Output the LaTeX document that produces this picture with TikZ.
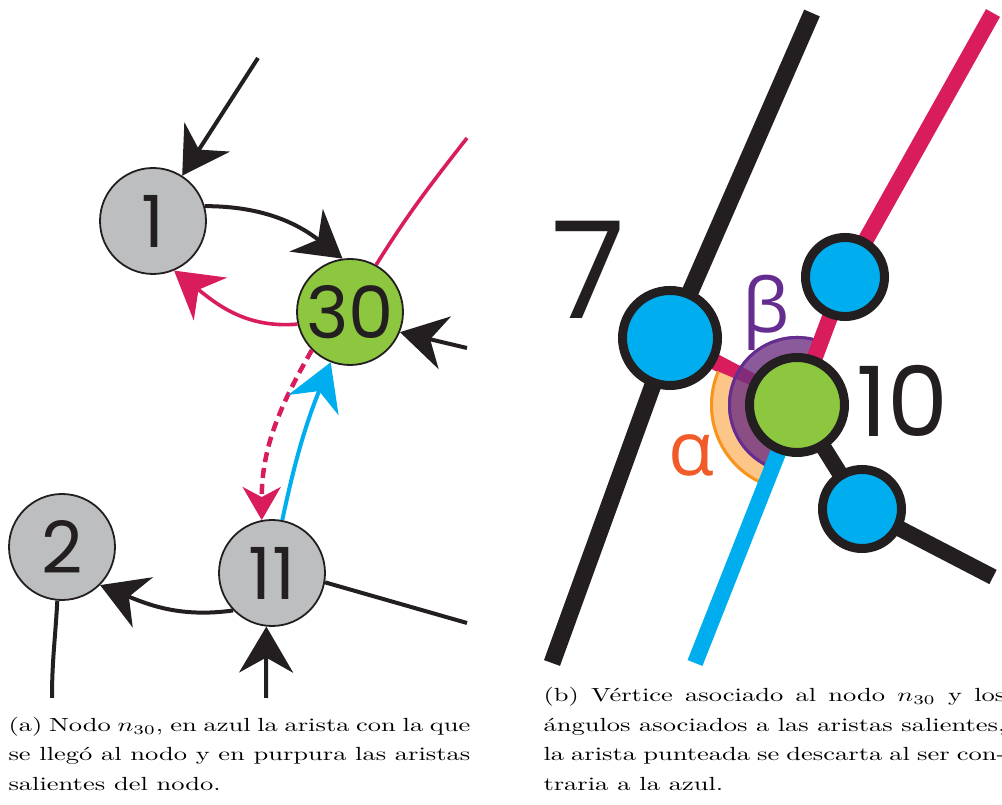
\documentclass[tikz,border=0pt]{standalone}
\usepackage{fontspec}
\usepackage{amsmath}
\usetikzlibrary{arrows.meta,backgrounds}

\newfontfamily\numfont{Poppins}
\newfontfamily\greekfont{Open Sans}

\definecolor{ink}{HTML}{231F20}
\definecolor{ngray}{HTML}{BCBEC0}
\definecolor{ngreen}{HTML}{8DC63F}
\definecolor{nmagenta}{HTML}{D91C5C}
\definecolor{nblue}{HTML}{00AEEF}
\definecolor{aorange}{HTML}{F7941D}
\definecolor{aorangefill}{HTML}{FDC689}
\definecolor{alabel}{HTML}{F15A29}
\definecolor{bpurple}{HTML}{662D91}
\definecolor{bpurplefill}{RGB}{110,49,130}

\begin{document}
\begin{tikzpicture}[x=1pt, y=1pt,
    arr/.style={-{Stealth[length=46pt,width=54pt,inset=15pt]}},
    gnode/.style={circle, draw=ink, line width=1.8pt, fill=ngray, minimum size=106pt, inner sep=0pt,
        font=\numfont\fontsize{72}{72}\selectfont, text=ink},
    edge/.style={draw=ink, line width=4pt},
    medge/.style={draw=nmagenta, line width=3.6pt},
    bedge/.style={draw=nblue, line width=4pt},
    vert/.style={circle, draw=ink, line width=9pt, fill=nblue, minimum size=79pt, inner sep=0pt},
    bigvert/.style={vert, minimum size=95pt},
    thick edge/.style={line width=16pt},
    biglabel/.style={font=\numfont\fontsize{#1}{#1}\selectfont, text=ink, inner sep=0pt},
    caption/.style={text width=174.3pt, align=justify, inner sep=0pt, anchor=north west,
        xscale=2.65, yscale=1.9, transform shape, font=\fontsize{10}{15.5}\selectfont}]
    \useasboundingbox (0,0) rectangle (1002,805);

    % Nodes (a)
    \node[gnode] (n1) at (153,584) {1};
    \node[gnode, fill=ngreen] (n30) at (350,493) {30};
    \node[gnode] (n2) at (62,258) {2};
    \node[gnode] (n11) at (272,232) {11};
    \coordinate (in1) at (258,747);
    \coordinate (out30) at (467,667);
    \coordinate (in30) at (467,457);
    \coordinate (out11) at (467,182);
    \coordinate (in11) at (266,107);
    \coordinate (out2) at (52,107);

    % Edges (a)
    \draw[edge, arr] (in1) -- (n1);
    \draw[edge, arr] (n1.16) to[out=0, in=142] (n30.98);
    \draw[medge, arr] (n30.193) to[out=185, in=-38] (n1.293);
    \draw[medge] (n30.61) to[out=58, in=232] (out30);
    \draw[edge, arr] (in30) -- (n30.-22);
    \draw[medge, line width=4.5pt, dash pattern=on 10pt off 6pt,
        -{Stealth[length=33pt,width=38pt,inset=10pt]}] (n30.225) to[out=240, in=90] (n11.101);
    \draw[bedge, arr] (n11.79) to[out=78, in=248] (n30.249);
    \draw[edge, arr] (n11.224) to[out=188, in=-22] (n2.-45);
    \draw[edge] (n11.-10) -- (out11);
    \draw[edge, arr] (in11) -- (n11.264);
    \draw[edge] (n2.265) to[out=267, in=90] (out2);

    % Nodes (b)
    \node[bigvert] (v7) at (670,467) {};
    \node[bigvert, fill=ngreen] (v10) at (797,400) {};
    \node[vert] (vt) at (845,528) {};
    \node[vert] (vb) at (862,296) {};
    \coordinate (top7) at (812,792);
    \coordinate (bot7) at (552,142);
    \coordinate (topm) at (993,792);
    \coordinate (endb) at (993,228);
    \coordinate (endblue) at (695,142);

    \node[biglabel=135] (l7) at (588,535) {7};
    \node[biglabel=97] (l10) at (902,404) {10};
    \node[inner sep=0pt, text=bpurple, font=\greekfont\fontsize{75}{75}\selectfont] (lb) at (766,492) {β};
    \node[inner sep=0pt, text=alabel, font=\greekfont\fontsize{75}{75}\selectfont] (la) at (691,350) {α};

    % Edges and angles (b)
    \begin{scope}[on background layer]
        \draw[nmagenta, thick edge] (v7.center) -- (v10.center);
        \fill[aorangefill] (v10.center) -- ++(157:87) arc[start angle=157, end angle=248, radius=87] -- cycle;
        \draw[aorange, line width=3pt] (v10.center) ++(157:85.5) arc[start angle=157, end angle=248, radius=85.5];
        \fill[bpurplefill, fill opacity=0.8] (v10.center) -- ++(69:69) arc[start angle=69, end angle=248, radius=69] -- cycle;
        \draw[bpurple, line width=3pt] (v10.center) ++(69:67.5) arc[start angle=69, end angle=248, radius=67.5];
        \draw[ink, thick edge, line width=17pt] (top7) -- (v7.center) -- (bot7);
        \draw[ink, thick edge] (v10.center) -- (vb.center) -- (endb);
        \draw[nmagenta, thick edge] (v10.center) -- (vt.center) -- (topm);
        \draw[nblue, thick edge] (v10.center) -- (endblue);
    \end{scope}

    % Captions
    \node[caption] (capa) at (8,94.8) {\strut(a) Nodo $n_{30}$, en azul la arista con la que\linebreak
        se llegó al nodo y en purpura las aristas\linebreak salientes del nodo.};
    \node[caption] (capb) at (543,124.3) {\strut(b) Vértice asociado al nodo $n_{30}$ y los\linebreak
        ángulos asociados a las aristas salientes,\linebreak la arista punteada se descarta al ser con-\linebreak
        traria a la azul.};
\end{tikzpicture}
\end{document}
